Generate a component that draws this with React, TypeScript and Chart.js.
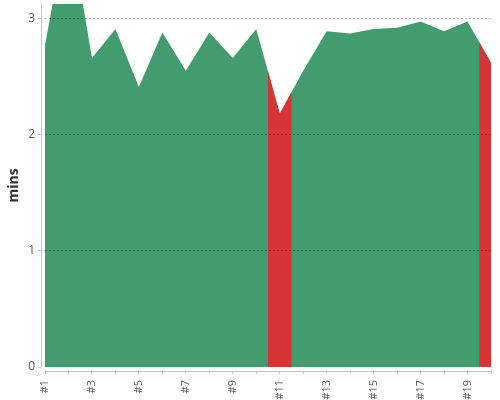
import React, { useEffect, useRef } from 'react';
import { Chart, registerables } from 'chart.js';

const labels = ['#1', '#2', '#3', '#4', '#5', '#6', '#7', '#8', '#9', '#10', '#11', '#12', '#13', '#14', '#15', '#16', '#17', '#18', '#19', '#20'];
const durations = [2.77, 3.87, 2.66, 2.91, 2.41, 2.88, 2.55, 2.88, 2.66, 2.91, 2.18, 2.55, 2.89, 2.87, 2.91, 2.92, 2.975, 2.89, 2.975, 2.62];
const flagged = [false, false, false, false, false, false, false, false, false, false, true, false, false, false, false, false, false, false, false, true];
const yMin = 0;
const yMax = 3.125;
const yStep = 1;
const axisTitle = 'mins';

const GREEN = '#439c6e';
const RED = '#d63437';

// clip the red (flagged) dataset to bands centred on flagged points
const bandClip = {
  id: 'bandClip',
  beforeDatasetDraw(chart: any, args: any) {
    if (args.index !== 1) return;
    const xs = chart.scales.x;
    const a = chart.chartArea;
    const ctx = chart.ctx;
    ctx.save();
    ctx.beginPath();
    flagged.forEach((f, i) => {
      if (!f) return;
      const l = Math.max(a.left, xs.getPixelForValue(i - 0.5));
      const r = Math.min(a.right, xs.getPixelForValue(i + 0.5));
      ctx.rect(l, a.top, r - l, a.bottom - a.top);
    });
    ctx.clip();
  },
  afterDatasetDraw(chart: any, args: any) {
    if (args.index === 1) chart.ctx.restore();
  },
};

Chart.register(bandClip);
Chart.register(...registerables);

const offsetAxes = {
  id: 'offsetAxes',
  afterDraw(chart: any) {
    const { ctx, chartArea: a } = chart;
    ctx.save();
    ctx.strokeStyle = '#c4c4c4';
    ctx.lineWidth = 1;
    ctx.beginPath();
    ctx.moveTo(a.left - 3.5, a.top);
    ctx.lineTo(a.left - 3.5, a.bottom);
    ctx.moveTo(a.left, a.bottom + 4.5);
    ctx.lineTo(a.right, a.bottom + 4.5);
    ctx.stroke();
    ctx.restore();
  },
};

export default function App() {
  const ref = useRef<HTMLCanvasElement>(null);
  useEffect(() => {
    if (!ref.current) return;
    Chart.defaults.font.family = "'Open Sans', sans-serif";
    const chart = new Chart(ref.current, {
      type: 'line',
      data: {
        labels,
        datasets: [
          {
            data: durations,
            backgroundColor: GREEN,
            borderWidth: 0,
            pointRadius: 0,
            fill: 'origin',
            tension: 0,
            order: 1,
          },
          {
            data: durations,
            backgroundColor: RED,
            borderWidth: 0,
            pointRadius: 0,
            fill: 'origin',
            tension: 0,
            order: 0,
          },
        ],
      },
      plugins: [offsetAxes],
      options: {
        responsive: false,
        animation: false,
        devicePixelRatio: 1,
        layout: { padding: { top: 4, right: 9, left: 0, bottom: 0 } },
        plugins: { legend: { display: false }, tooltip: { enabled: false } },
        scales: {
          x: {
            type: 'category',
            afterFit: (s: any) => {
              s.height = 33;
              s.paddingLeft = 0;
              s.paddingRight = 0;
            },
            border: { display: false },
            grid: {
              drawOnChartArea: false,
              tickLength: 7,
              tickColor: '#c4c4c4',
              tickBorderDash: [0, 4, 3, 100],
            },
            ticks: {
              autoSkip: false,
              minRotation: 90,
              maxRotation: 90,
              padding: 6,
              color: '#555',
              font: { size: 11 },
              callback: (_v: any, i: number) => (i % 2 === 0 ? labels[i] : ''),
            },
          },
          y: {
            min: yMin,
            max: yMax,
            afterFit: (s: any) => {
              s.width = 45;
              s.paddingTop = 0;
              s.paddingBottom = 0;
            },
            border: { display: false, dash: [2, 2] },
            grid: {
              z: 1,
              color: (c: any) => (c.tick && c.tick.value === 0 ? 'rgba(0,0,0,0)' : 'rgba(0,0,0,0.3)'),
              tickColor: '#c4c4c4',
              tickLength: 7,
              tickBorderDash: [3, 100],
            },
            title: {
              display: true,
              text: axisTitle,
              color: '#333',
              font: { size: 14, weight: 'bold' },
              padding: { top: 6, bottom: 0 },
            },
            ticks: {
              stepSize: yStep,
              includeBounds: false,
              padding: 3,
              color: '#555',
              font: { size: 12 },
            },
          },
        },
      } as any,
    });
    return () => chart.destroy();
  }, []);
  return (
    <canvas
      ref={ref}
      width={500}
      height={400}
      style={{ position: 'absolute', left: 0, top: 0, width: 500, height: 400 }}
    />
  );
}
